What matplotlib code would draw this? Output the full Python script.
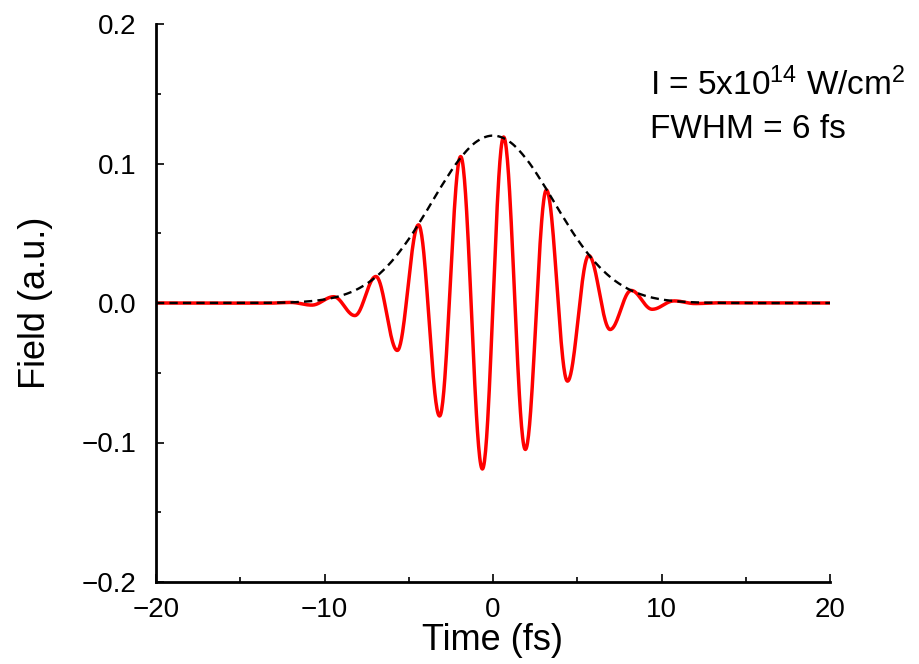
import numpy as np
import matplotlib
matplotlib.use("Agg")
import matplotlib.pyplot as plt
from matplotlib.ticker import MultipleLocator, FuncFormatter

plt.rcParams['font.family'] = ['Liberation Sans', 'DejaVu Sans']
plt.rcParams['mathtext.fontset'] = 'custom'
plt.rcParams['mathtext.rm'] = 'Liberation Sans'
plt.rcParams['mathtext.it'] = 'Liberation Sans:italic'

# ---- data ----
# field extrema (time in fs, field in a.u.), with flat zero ends
field_t = [-20.0, -13.3, -12.0, -10.75, -9.45, -8.2, -6.95, -5.68, -4.42, -3.17,
           -1.92, -0.63, 0.63, 1.92, 3.17, 4.42, 5.68, 6.95, 8.2, 9.45,
           10.75, 12.0, 13.3, 20.0]
field_v = [0.0, -0.0001, 0.0004, -0.0015, 0.0045, -0.009, 0.019, -0.034, 0.056, -0.081,
           0.105, -0.119, 0.119, -0.105, 0.081, -0.056, 0.034, -0.019, 0.009, -0.0045,
           0.0015, -0.0004, 0.0001, 0.0]

# envelope (dashed) samples
env_t = [-20, -14, -13, -12, -11, -10, -9, -8, -7, -6, -5, -4, -3, -2, -1, 0,
         1, 2, 3, 4, 5, 6, 7, 8, 9, 10, 11, 12, 13, 14, 20]
env_v = [0.0, 0.00006, 0.00018, 0.00047, 0.00114, 0.00255, 0.0053, 0.0102, 0.0182,
         0.030, 0.0458, 0.0648, 0.0849, 0.1029, 0.1155, 0.120,
         0.1155, 0.1029, 0.0849, 0.0648, 0.0458, 0.030, 0.0182, 0.0102, 0.0053,
         0.00255, 0.00114, 0.00047, 0.00018, 0.00006, 0.0]

x_ticks = [-20, -10, 0, 10, 20]
y_ticks = [-0.2, -0.1, 0.0, 0.1, 0.2]
label_line1 = r"I = 5x10$^{14}$ W/cm$^{2}$"
label_line2 = "FWHM = 6 fs"


def cosine_join(t, v, n=40):
    t = np.asarray(t, float); v = np.asarray(v, float)
    xs, ys = [], []
    for i in range(len(t) - 1):
        s = np.linspace(0, 1, n, endpoint=(i == len(t) - 2))
        xs.append(t[i] + (t[i + 1] - t[i]) * s)
        ys.append((v[i] + v[i + 1]) / 2 + (v[i] - v[i + 1]) / 2 * np.cos(np.pi * s))
    return np.concatenate(xs), np.concatenate(ys)


def hermite_smooth(t, v, n=30):
    t = np.asarray(t, float); v = np.asarray(v, float)
    m = np.gradient(v, t)
    xs, ys = [], []
    for i in range(len(t) - 1):
        s = np.linspace(0, 1, n, endpoint=(i == len(t) - 2))
        h = t[i + 1] - t[i]
        h00 = 2 * s**3 - 3 * s**2 + 1
        h10 = s**3 - 2 * s**2 + s
        h01 = -2 * s**3 + 3 * s**2
        h11 = s**3 - s**2
        xs.append(t[i] + h * s)
        ys.append(h00 * v[i] + h10 * h * m[i] + h01 * v[i + 1] + h11 * h * m[i + 1])
    return np.concatenate(xs), np.concatenate(ys)


fig = plt.figure(figsize=(9.19, 6.64), dpi=100)
ax = fig.add_axes([156 / 919, 1 - 582 / 664, 674 / 919, 558 / 664])

fx, fy = cosine_join(field_t, field_v)
ax.plot(fx, fy, color='#ff0000', lw=2.5, zorder=2, solid_capstyle='butt')
ex, ey = hermite_smooth(env_t, env_v)
ax.plot(ex, ey, color='black', lw=1.7, ls=(0, (3.5, 2.2)), zorder=3)

ax.set_xlim(-20, 20)
ax.set_ylim(-0.2, 0.2)
ax.set_xticks(x_ticks)
ax.set_yticks(y_ticks)
ax.xaxis.set_minor_locator(MultipleLocator(5))
ax.yaxis.set_minor_locator(MultipleLocator(0.05))
ax.yaxis.set_major_formatter(FuncFormatter(lambda v, p: f"{v:.1f}".replace('-', '\u2212')))
ax.xaxis.set_major_formatter(FuncFormatter(lambda v, p: f"{v:.0f}".replace('-', '\u2212')))

for side in ['top', 'right']:
    ax.spines[side].set_visible(False)
for side in ['left', 'bottom']:
    ax.spines[side].set_linewidth(2.0)

ax.tick_params(which='major', direction='in', length=6, width=1.2, labelsize=20, pad=11)
ax.tick_params(which='minor', direction='in', length=3.5, width=1.2)
ax.tick_params(axis='y', which='major', pad=14)

ax.set_xlabel("Time (fs)", fontsize=26, labelpad=0)
ax.set_ylabel("Field (a.u.)", fontsize=26)
ax.yaxis.set_label_coords(-0.153, 0.5)

ax.text((650 - 156) / 674, (582 - 95) / 558, label_line1, transform=ax.transAxes,
        fontsize=24, ha='left', va='baseline')
ax.text((650 - 156) / 674, (582 - 138) / 558, label_line2, transform=ax.transAxes,
        fontsize=24, ha='left', va='baseline')

fig.savefig("out.png", dpi=100)
